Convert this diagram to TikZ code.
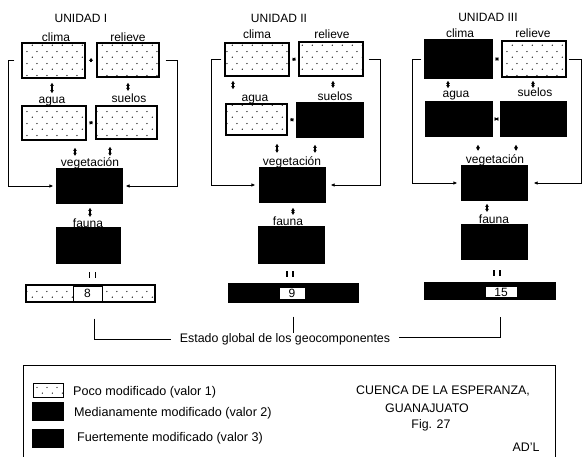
\documentclass[tikz,border=0pt]{standalone}
\usepackage{fontspec}
\setmainfont{Liberation Sans}
\usetikzlibrary{arrows.meta,patterns.meta,calc}
\tikzdeclarepattern{
  name=sdots, type=uncolored,
  bounding box={(0pt,0pt) and (10pt,12pt)},
  tile size={(10pt,12pt)},
  code={\fill (2.5pt,3pt) circle (0.7pt); \fill (7.5pt,9pt) circle (0.7pt);}
}
\tikzset{
  lite/.style={draw=black, line width=1.3pt, pattern=sdots, pattern color=black, inner sep=0pt},
  dark/.style={draw=black, line width=1.3pt, fill=black, inner sep=0pt},
  numbox/.style={draw=black, line width=1pt, fill=white, inner sep=0pt, font=\fontsize{12}{14}\selectfont},
  lbl/.style={anchor=base, inner sep=0pt, font=\fontsize{12}{14}\selectfont},
  ltxt/.style={anchor=base west, inner sep=0pt, font=\fontsize{12.6}{14}\selectfont},
  ctxt/.style={anchor=base, inner sep=0pt, font=\fontsize{12.4}{14}\selectfont},
  dbl/.style={{Latex[length=3.2pt,width=4pt]}-{Latex[length=3.2pt,width=4pt]}, line width=1.1pt},
  fb/.style={line width=0.9pt, -{Latex[length=4pt,width=3.6pt]}},
  eqbar/.style={line width=1.6pt},
  thin/.style={line width=0.9pt}
}
\begin{document}
\begin{tikzpicture}[x=1pt,y=-1pt]
\useasboundingbox (0,0) rectangle (582,456);
\clip (0,0) rectangle (582,456);

% ---------------- UNIDAD I ----------------
\node[lbl] (t1) at (81,22) {UNIDAD I};
\node[lbl] (lc1) at (56,41) {clima};
\node[lbl] (lr1) at (128,41) {relieve};
\node[lbl] (la1) at (52,103) {agua};
\node[lbl] (ls1) at (129,102) {suelos};
\node[lbl] (lv1) at (90,166) {vegetación};
\node[lbl] (lf1) at (88,227) {fauna};

\node[lite, minimum width=63pt, minimum height=35pt] (c1) at (53.5,60.5) {};
\node[lite, minimum width=62pt, minimum height=34pt] (r1) at (128,60) {};
\node[lite, minimum width=64pt, minimum height=34pt] (a1) at (54,123) {};
\node[lite, minimum width=61pt, minimum height=33pt] (s1) at (126.5,122.5) {};
\node[dark, minimum width=65pt, minimum height=34pt] (v1) at (89.5,186) {};
\node[dark, minimum width=63pt, minimum height=35pt] (f1) at (88.5,245.5) {};
\node[lite, minimum width=129pt, minimum height=17pt] (b1) at (90.5,293.5) {};
\node[numbox, minimum width=29pt, minimum height=15pt] (n1) at (87.5,293.5) {8};

\draw[dbl, shorten <=3pt, shorten >=3pt] (c1.east) -- (r1.west);
\draw[dbl, shorten <=2.5pt, shorten >=2.5pt] (a1.east) -- (s1.west);
\draw[dbl, shorten <=4pt, shorten >=3pt] (c1.south -| 52,0) -- (la1.north -| 52,0);
\draw[dbl, shorten <=5pt, shorten >=2pt] (r1.south -| 128,0) -- (ls1.north -| 128,0);
\draw[dbl, shorten <=7pt, shorten >=1pt] (a1.south -| 75,0) -- (lv1.north -| 75,0);
\draw[dbl, shorten <=7pt, shorten >=1pt] (s1.south -| 110,0) -- (lv1.north -| 110,0);
\draw[dbl, shorten <=4pt, shorten >=1pt] (v1.south -| 90,0) -- (lf1.north -| 90,0);
\draw[fb] ([xshift=-7pt]c1.west) -- ++(-6,0) |- ([xshift=-3pt]v1.west);
\draw[fb] ([xshift=6pt]r1.east) -- ++(12,0) |- ([xshift=3pt]v1.east);
\draw[eqbar] (89.5,272) -- (89.5,278) (95.5,272) -- (95.5,278);

% ---------------- UNIDAD II ----------------
\node[lbl] (t2) at (279,22) {UNIDAD II};
\node[lbl] (lc2) at (257,38) {clima};
\node[lbl] (lr2) at (332,38) {relieve};
\node[lbl] (la2) at (255,101) {agua};
\node[lbl] (ls2) at (335,100) {suelos};
\node[lbl] (lv2) at (292,165) {vegetación};
\node[lbl] (lf2) at (288,225) {fauna};

\node[lite, minimum width=64pt, minimum height=33pt] (c2) at (257,59.5) {};
\node[lite, minimum width=64pt, minimum height=34pt] (r2) at (331,59) {};
\node[lite, minimum width=61pt, minimum height=31pt] (a2) at (256.5,119.5) {};
\node[dark, minimum width=66pt, minimum height=34pt] (s2) at (330,120) {};
\node[dark, minimum width=65pt, minimum height=34pt] (v2) at (292.5,185) {};
\node[dark, minimum width=65pt, minimum height=36pt] (f2) at (291.5,245) {};
\node[dark, minimum width=129pt, minimum height=18pt] (b2) at (293.5,293) {};
\node[numbox, minimum width=26pt, minimum height=12pt] (n2) at (292,293) {9};

\draw[dbl, shorten <=2.5pt, shorten >=2.5pt] (c2.east) -- (r2.west);
\draw[dbl, shorten <=2.5pt, shorten >=2.5pt] (a2.east) -- (s2.west);
\draw[dbl, shorten <=4pt, shorten >=5pt] (c2.south -| 233,0) -- (la2.north -| 233,0);
\draw[dbl, shorten <=4pt, shorten >=3pt] (r2.south -| 333,0) -- (ls2.north -| 333,0);
\draw[dbl, shorten <=8pt, shorten >=3pt] (a2.south -| 277,0) -- (lv2.north -| 277,0);
\draw[dbl, shorten <=7pt, shorten >=3pt] (s2.south -| 315,0) -- (lv2.north -| 315,0);
\draw[dbl, shorten <=5pt, shorten >=1pt] (v2.south -| 293,0) -- (lf2.north -| 293,0);
\draw[fb] ([xshift=-3pt]c2.west) -- ++(-10,0) |- ([xshift=-4pt]v2.west);
\draw[fb] ([xshift=5pt]r2.east) -- ++(12,0) |- ([xshift=5pt]v2.east);
\draw[eqbar] (287,271) -- (287,277) (293,271) -- (293,277);

% ---------------- UNIDAD III ----------------
\node[lbl] (t3) at (488,21) {UNIDAD III};
\node[lbl] (lc3) at (460,37) {clima};
\node[lbl] (lr3) at (533,37) {relieve};
\node[lbl] (la3) at (456,97) {agua};
\node[lbl] (ls3) at (535,96) {suelos};
\node[lbl] (lv3) at (495,163) {vegetación};
\node[lbl] (lf3) at (494,223) {fauna};

\node[dark, minimum width=67pt, minimum height=38pt] (c3) at (458.5,59) {};
\node[lite, minimum width=64pt, minimum height=36pt] (r3) at (534,59) {};
\node[dark, minimum width=66pt, minimum height=34pt] (a3) at (459,119) {};
\node[dark, minimum width=65pt, minimum height=34pt] (s3) at (533.5,119) {};
\node[dark, minimum width=65pt, minimum height=34pt] (v3) at (494.5,183) {};
\node[dark, minimum width=65pt, minimum height=34pt] (f3) at (494.5,242) {};
\node[dark, minimum width=130pt, minimum height=16pt] (b3) at (490,291) {};
\node[numbox, minimum width=32pt, minimum height=11pt] (n3) at (501,292) {15};

\draw[dbl, shorten <=2.5pt, shorten >=2.5pt] (c3.east) -- (r3.west);
\draw[dbl, shorten <=2.5pt, shorten >=2.5pt] (a3.east) -- (s3.west);
\draw[dbl, shorten <=2pt, shorten >=2pt] (c3.south -| 448,0) -- (la3.north -| 448,0);
\draw[dbl, shorten <=3pt, shorten >=-1pt] (r3.south -| 533,0) -- (ls3.north -| 533,0);
\draw[dbl, shorten <=8pt, shorten >=3pt] (a3.south -| 478,0) -- (lv3.north -| 478,0);
\draw[dbl, shorten <=8pt, shorten >=3pt] (s3.south -| 516,0) -- (lv3.north -| 516,0);
\draw[dbl, shorten <=3pt, shorten >=2pt] (v3.south -| 487,0) -- (lf3.north -| 487,0);
\draw[fb] ([xshift=-3pt]c3.west) -- ++(-9,0) |- ([xshift=-4pt]v3.west);
\draw[fb] ([xshift=2pt]r3.east) -- ++(13,0) |- ([xshift=6pt]v3.east);
\draw[eqbar] (494,270) -- (494,276) (500,270) -- (500,276);

% ---------------- global state ----------------
\node[ctxt, inner xsep=9pt, inner ysep=0pt] (est) at (285,342) {Estado global de los geocomponentes};
\draw[thin] ([xshift=4pt,yshift=-16pt]b1.south) |- (est.west |- 0,339);
\draw[thin] ([yshift=-14pt]b2.south) -- ([yshift=-30pt]b2.south);
\draw[thin] (est.east |- 0,337) -| ([xshift=10pt,yshift=-17pt]b3.south);

% ---------------- legend ----------------
\draw[line width=1pt] (23,462) -- (23,365) -- (555,365) -- (555,462);
\node[lite, line width=1pt, minimum width=30pt, minimum height=14pt] (k1) at (48,390) {};
\node[dark, minimum width=30pt, minimum height=17pt] (k2) at (48,411.5) {};
\node[dark, minimum width=30pt, minimum height=17pt] (k3) at (48,438.5) {};
\node[ltxt] (tk1) at (73,395) {Poco modificado (valor 1)};
\node[ltxt] (tk2) at (74,416) {Medianamente modificado (valor 2)};
\node[ltxt] (tk3) at (77,441) {Fuertemente modificado (valor 3)};
\node[ctxt] (cu) at (443,394) {CUENCA DE LA ESPERANZA,};
\node[ctxt] (gu) at (427,412) {GUANAJUATO};
\node[ctxt] (fg) at (431,428) {Fig. 27};
\node[ctxt] (ad) at (526,451) {AD’L};
\end{tikzpicture}
\end{document}
